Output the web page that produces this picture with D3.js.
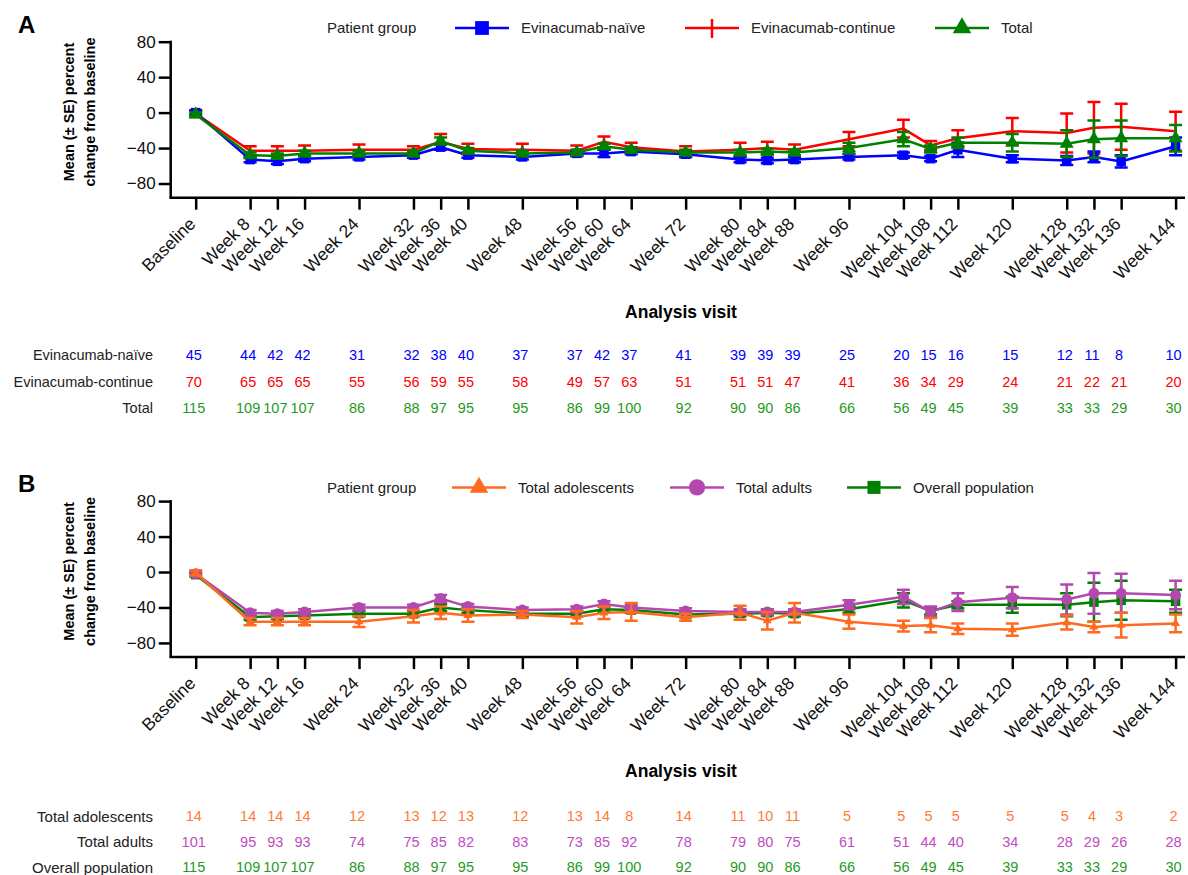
<!DOCTYPE html>
<html>
<head>
<meta charset="utf-8">
<script src="https://cdn.jsdelivr.net/npm/d3@7"></script>
<style>
  body { margin: 0; background: #fff; }
  text { font-family: Arial, "Liberation Sans", sans-serif; }
</style>
</head>
<body>
<script>
const weeks = [0, 8, 12, 16, 24, 32, 36, 40, 48, 56, 60, 64, 72, 80, 84, 88, 96, 104, 108, 112, 120, 128, 132, 136, 144]
const visitLabels = ["Baseline", "Week 8", "Week 12", "Week 16", "Week 24", "Week 32", "Week 36", "Week 40", "Week 48",
  "Week 56", "Week 60", "Week 64", "Week 72", "Week 80", "Week 84", "Week 88", "Week 96", "Week 104", "Week 108",
  "Week 112", "Week 120", "Week 128", "Week 132", "Week 136", "Week 144"]
const yTicks = [-80, -40, 0, 40, 80]

// panel A
const naiveMean = [0, -53, -55, -52, -50, -48, -39, -48, -50, -46, -46, -44, -47, -53, -54, -53, -50, -48, -52, -42, -52, -54, -50, -55, -38]
const naiveSE = [2, 3, 3, 3, 3, 3, 3, 3, 3, 3, 4, 3, 3, 3, 3, 3, 3, 3, 3, 8, 4, 5, 6, 7, 10]
const continueMean = [-1, -43, -43, -43, -42, -42, -33, -41, -42, -43, -33, -39, -44, -42, -40, -42, -30, -18, -37, -29, -21, -23, -17, -16, -21]
const continueSE = [4, 5, 5, 6, 6, 4, 9, 6, 7, 6, 6, 5, 6, 8, 7, 6, 8, 10, 5, 9, 15, 22, 29, 26, 22]
const totalMean = [-2, -48, -49, -46, -46, -46, -32, -43, -46, -45, -38, -42, -45, -45, -44, -45, -40, -30, -41, -34, -34, -35, -30, -29, -29]
const totalSE = [2, 3, 3, 3, 3, 3, 4, 3, 3, 3, 3, 3, 3, 3, 3, 3, 6, 8, 4, 6, 10, 15, 21, 20, 15]
const naiveN = [45, 44, 42, 42, 31, 32, 38, 40, 37, 37, 42, 37, 41, 39, 39, 39, 25, 20, 15, 16, 15, 12, 11, 8, 10]
const continueN = [70, 65, 65, 65, 55, 56, 59, 55, 58, 49, 57, 63, 51, 51, 51, 47, 41, 36, 34, 29, 24, 21, 22, 21, 20]
const totalN = [115, 109, 107, 107, 86, 88, 97, 95, 95, 86, 99, 100, 92, 90, 90, 86, 66, 56, 49, 45, 39, 33, 33, 29, 30]

// panel B
const adolMean = [-1, -56, -56, -56, -56, -50, -46, -49, -48, -51, -46, -45, -51, -46, -55, -46, -56, -61, -60, -64, -65, -57, -62, -60, -58]
const adolSE = [3, 4, 4, 4, 6, 7, 7, 7, 4, 7, 7, 10, 4, 8, 10, 11, 8, 6, 8, 6, 7, 8, 6, 14, 10]
const adultMean = [-2, -46, -47, -45, -40, -40, -30, -39, -43, -42, -36, -40, -44, -45, -45, -45, -37, -28, -45, -34, -29, -31, -24, -24, -26]
const adultSE = [2, 3, 3, 3, 3, 3, 4, 3, 3, 3, 3, 3, 3, 3, 3, 3, 5, 8, 6, 10, 12, 17, 23, 22, 16]
const overallMean = [-3, -51, -50, -49, -47, -47, -40, -43, -47, -47, -42, -43, -48, -47, -46, -47, -42, -32, -44, -37, -37, -37, -34, -32, -33]
const overallSE = [2, 3, 3, 3, 3, 3, 4, 3, 3, 3, 3, 3, 3, 3, 3, 3, 4, 8, 4, 4, 9, 13, 22, 22, 13]
const adolN = [14, 14, 14, 14, 12, 13, 12, 13, 12, 13, 14, 8, 14, 11, 10, 11, 5, 5, 5, 5, 5, 5, 4, 3, 2]
const adultN = [101, 95, 93, 93, 74, 75, 85, 82, 83, 73, 85, 92, 78, 79, 80, 75, 61, 51, 44, 40, 34, 28, 29, 26, 28]
const overallN = [115, 109, 107, 107, 86, 88, 97, 95, 95, 86, 99, 100, 92, 90, 90, 86, 66, 56, 49, 45, 39, 33, 33, 29, 30]

const BLUE = "#0000ff", RED = "#ff0000", GREEN = "#008000"
const ORANGE = "#ff6a21", PURPLE = "#b348ae"

const svg = d3.select("body").append("svg")
    .attr("width", 1188)
    .attr("height", 875)

const x = d3.scaleLinear().domain([0, 144]).range([195.7, 1175.6])

const drawPanel = function(p) {
    const top = p.offset
    const y = d3.scaleLinear().domain([-96, 80]).range([top + 197.7, top + 41.7])
    const g = svg.append("g")

    g.append("text").attr("x", 18).attr("y", top + 33)
        .style("font-size", "24px").style("font-weight", "bold").text(p.letter)

    // y axis
    const ya = g.append("g").attr("transform", "translate(170.7,0)")
        .call(d3.axisLeft(y).tickValues(yTicks).tickSize(12).tickSizeOuter(0)
            .tickFormat(d => d < 0 ? "\u2212" + Math.abs(d) : d))
    ya.select(".domain").remove()
    ya.selectAll(".tick line").attr("stroke", "#000").attr("stroke-width", 2.5)
    ya.selectAll(".tick text").attr("x", -15).style("font-size", "17px").attr("fill", "#111")
    g.append("line").attr("x1", 170.7).attr("x2", 170.7)
        .attr("y1", y(80) - 1).attr("y2", y(-96)).attr("stroke", "#000").attr("stroke-width", 2.5)

    // x axis
    const xa = g.append("g").attr("transform", `translate(0,${y(-96)})`)
        .call(d3.axisBottom(x).tickValues(weeks).tickSize(12).tickSizeOuter(0)
            .tickFormat((d, i) => visitLabels[i]))
    xa.select(".domain").remove()
    xa.selectAll(".tick line").attr("stroke", "#000").attr("stroke-width", 2.5)
    xa.selectAll(".tick text")
        .attr("y", 0).attr("dy", "0.35em")
        .attr("text-anchor", "end")
        .attr("transform", "translate(-4,23) rotate(-45)")
        .style("font-size", "17.5px").attr("fill", "#111")
    g.append("line").attr("x1", 169.5).attr("x2", 1185)
        .attr("y1", y(-96)).attr("y2", y(-96)).attr("stroke", "#000").attr("stroke-width", 2.5)

    // axis titles
    const yt = g.append("text").attr("transform", `translate(0,${top + 112}) rotate(-90)`)
        .attr("text-anchor", "middle").style("font-size", "14.5px").style("font-weight", "bold")
    yt.append("tspan").attr("x", 0).attr("y", 74).text("Mean (\u00b1 SE) percent")
    yt.append("tspan").attr("x", 0).attr("y", 95).text("change from baseline")
    g.append("text").attr("x", 681).attr("y", top + 318).attr("text-anchor", "middle")
        .style("font-size", "17.5px").style("font-weight", "bold").text("Analysis visit")

    // series, in stacking order
    const line = d3.line().x(d => x(d.w)).y(d => y(d.m))
    p.drawOrder.forEach(s => {
        const pts = weeks.map((w, i) => ({ w: w, m: s.mean[i], se: s.se[i] }))
        const sg = g.append("g")
        sg.append("path").datum(pts).attr("d", line)
            .attr("fill", "none").attr("stroke", s.color).attr("stroke-width", 2.5)
        sg.selectAll(".eb").data(pts).enter().append("path")
            .attr("d", d => {
                const cx = x(d.w), y1 = y(d.m + d.se), y2 = y(d.m - d.se)
                return `M${cx - 6.5},${y1}H${cx + 6.5}M${cx},${y1}V${y2}M${cx - 6.5},${y2}H${cx + 6.5}`
            })
            .attr("fill", "none").attr("stroke", s.color).attr("stroke-width", 2.5)
        if (s.symbol) {
            sg.selectAll(".mk").data(pts).enter().append("path")
                .attr("transform", d => `translate(${x(d.w)},${y(d.m)})`)
                .attr("d", d3.symbol().type(s.symbol).size(s.size))
                .attr("fill", s.color)
        }
    })

    // legend
    const ly = top + 28
    g.append("text").attr("x", 327).attr("y", ly).attr("dy", "0.35em")
        .style("font-size", "15px").attr("fill", "#222").text("Patient group")
    p.series.forEach(s => {
        const lg = g.append("g")
        lg.append("line").attr("x1", s.lx - 27).attr("x2", s.lx + 27).attr("y1", ly).attr("y2", ly)
            .attr("stroke", s.color).attr("stroke-width", 2.5)
        if (s.symbol) {
            lg.append("path").attr("transform", `translate(${s.lx},${ly})`)
                .attr("d", d3.symbol().type(s.symbol).size(s.legendSize)).attr("fill", s.color)
        } else {
            lg.append("line").attr("x1", s.lx).attr("x2", s.lx).attr("y1", ly - 9).attr("y2", ly + 10)
                .attr("stroke", s.color).attr("stroke-width", 2.5)
        }
        lg.append("text").attr("x", s.lx + 39).attr("y", ly).attr("dy", "0.35em")
            .style("font-size", "15px").attr("fill", "#222").text(s.name)
    })

    // number-at-risk table, in legend order
    p.series.forEach((s, r) => {
        const ty = top + p.tableTop + r * p.rowGap
        g.append("text").attr("x", 153).attr("y", ty).attr("dy", "0.35em").attr("text-anchor", "end")
            .style("font-size", p.labelSize).attr("fill", "#222").text(s.name)
        g.selectAll(null).data(s.n).enter().append("text")
            .attr("x", (d, i) => x(weeks[i]) - 2).attr("y", ty).attr("dy", "0.35em")
            .attr("text-anchor", "middle").style("font-size", "14.5px").attr("fill", s.textColor || s.color)
            .text(d => d)
    })
}

const naive = { name: "Evinacumab-na\u00efve", mean: naiveMean, se: naiveSE, n: naiveN, color: BLUE, symbol: d3.symbolSquare, size: 90, legendSize: 190, lx: 482 }
const cont = { name: "Evinacumab-continue", mean: continueMean, se: continueSE, n: continueN, color: RED, lx: 712 }
const total = { name: "Total", mean: totalMean, se: totalSE, n: totalN, color: GREEN, textColor: "#1f9a1f", symbol: d3.symbolTriangle, size: 85, legendSize: 150, lx: 962 }

const adol = { name: "Total adolescents", mean: adolMean, se: adolSE, n: adolN, color: ORANGE, textColor: "#ff7a33", symbol: d3.symbolTriangle, size: 35, legendSize: 150, lx: 479 }
const adult = { name: "Total adults", mean: adultMean, se: adultSE, n: adultN, color: PURPLE, textColor: "#c04cbf", symbol: d3.symbolCircle, size: 95, legendSize: 210, lx: 697 }
const overall = { name: "Overall population", mean: overallMean, se: overallSE, n: overallN, color: GREEN, textColor: "#1f9a1f", symbol: d3.symbolSquare, size: 90, legendSize: 170, lx: 874 }

drawPanel({ letter: "A", offset: 0, series: [naive, cont, total], drawOrder: [cont, naive, total], tableTop: 355, rowGap: 26.5, labelSize: "14.5px" })
drawPanel({ letter: "B", offset: 459.4, series: [adol, adult, overall], drawOrder: [overall, adult, adol], tableTop: 357, rowGap: 25.5, labelSize: "15px" })
</script>
</body>
</html>
